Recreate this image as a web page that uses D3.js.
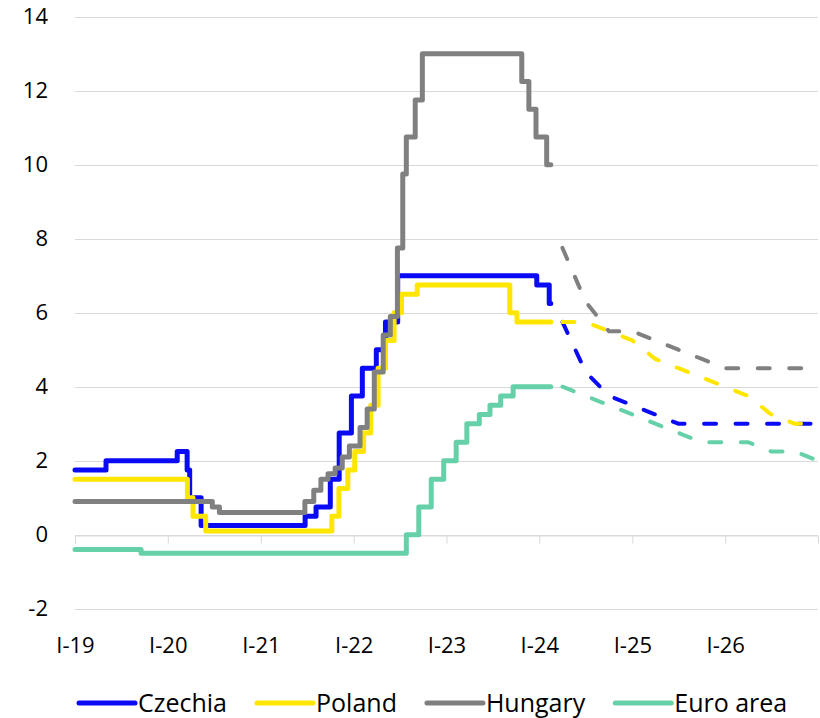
<!DOCTYPE html>
<html>
<head>
<meta charset="utf-8">
<script src="https://cdn.jsdelivr.net/npm/d3@7"></script>
<style>
  body { margin: 0; background: #fff; }
  text { font-family: "Open Sans", sans-serif; fill: #000; }
</style>
</head>
<body>
<div id="chart"></div>
<script>
// policy rates, step changes (date, rate %)
var czechia = [
  ["2019-01-01", 1.75], ["2019-05-03", 2.00], ["2020-02-07", 2.25], ["2020-03-17", 1.75],
  ["2020-03-27", 1.00], ["2020-05-11", 0.25], ["2021-06-24", 0.50], ["2021-08-06", 0.75],
  ["2021-10-01", 1.50], ["2021-11-05", 2.75], ["2021-12-23", 3.75], ["2022-02-04", 4.50],
  ["2022-03-31", 5.00], ["2022-05-06", 5.75], ["2022-06-23", 7.00], ["2023-12-22", 6.75],
  ["2024-02-09", 6.25], ["2024-02-15", 6.25]
];
var poland = [
  ["2019-01-01", 1.50], ["2020-03-18", 1.00], ["2020-04-09", 0.50], ["2020-05-29", 0.10],
  ["2021-10-07", 0.50], ["2021-11-04", 1.25], ["2021-12-09", 1.75], ["2022-01-05", 2.25],
  ["2022-02-09", 2.75], ["2022-03-09", 3.50], ["2022-04-07", 4.50], ["2022-05-06", 5.25],
  ["2022-06-09", 6.00], ["2022-07-08", 6.50], ["2022-09-08", 6.75], ["2023-09-07", 6.00],
  ["2023-10-05", 5.75], ["2024-02-15", 5.75]
];
var hungary = [
  ["2019-01-01", 0.90], ["2020-06-24", 0.75], ["2020-07-22", 0.60], ["2021-06-23", 0.90],
  ["2021-07-28", 1.20], ["2021-08-25", 1.50], ["2021-09-22", 1.65], ["2021-10-20", 1.80],
  ["2021-11-17", 2.10], ["2021-12-15", 2.40], ["2022-01-26", 2.90], ["2022-02-23", 3.40],
  ["2022-03-23", 4.40], ["2022-04-27", 5.40], ["2022-05-25", 5.90], ["2022-06-22", 7.75],
  ["2022-07-13", 9.75], ["2022-07-27", 10.75], ["2022-08-31", 11.75], ["2022-09-28", 13.00],
  ["2023-10-24", 12.25], ["2023-11-21", 11.50], ["2023-12-19", 10.75], ["2024-01-30", 10.00],
  ["2024-02-15", 10.00]
];
var euroArea = [
  ["2019-01-01", -0.40], ["2019-09-18", -0.50], ["2022-07-27", 0.00], ["2022-09-14", 0.75],
  ["2022-11-02", 1.50], ["2022-12-21", 2.00], ["2023-02-08", 2.50], ["2023-03-22", 3.00],
  ["2023-05-10", 3.25], ["2023-06-21", 3.50], ["2023-08-02", 3.75], ["2023-09-20", 4.00],
  ["2024-02-15", 4.00]
];

// forecasts, quarterly
var fcDates = ["2024-04-01", "2024-07-01", "2024-10-01", "2025-01-01", "2025-04-01", "2025-07-01",
  "2025-10-01", "2026-01-01", "2026-04-01", "2026-07-01", "2026-10-01", "2027-01-01"];
var czechiaFc  = [5.75, 4.40, 3.75, 3.50, 3.25, 3.00, 3.00, 3.00, 3.00, 3.00, 3.00, 3.00];
var polandFc   = [5.75, 5.75, 5.50, 5.25, 4.75, 4.50, 4.25, 4.00, 3.75, 3.25, 3.00, 3.00];
var hungaryFc  = [7.75, 6.30, 5.50, 5.50, 5.25, 5.00, 4.75, 4.50, 4.50, 4.50, 4.50, 4.50];
var euroAreaFc = [4.00, 3.75, 3.50, 3.25, 3.00, 2.75, 2.50, 2.50, 2.50, 2.25, 2.25, 2.00];

var yTicks = [-2, 0, 2, 4, 6, 8, 10, 12, 14];
var xTickYears = ["2019", "2020", "2021", "2022", "2023", "2024", "2025", "2026"];

var seriesNames = ["Czechia", "Poland", "Hungary", "Euro area"];
var colors = ["#0a0af5", "#ffe600", "#808080", "#66d1a8"];

var width = 820, height = 718;
var parse = d3.utcParse("%Y-%m-%d");

var svg = d3.select("#chart").append("svg")
    .attr("width", width)
    .attr("height", height);

var x = d3.scaleUtc()
    .domain([parse("2019-01-01"), parse("2027-01-01")])
    .range([75, 818]);
var y = d3.scaleLinear()
    .domain([-2, 14])
    .range([608.7, 16.7]);

// gridlines
svg.append("g")
  .selectAll("line")
  .data(yTicks)
  .enter().append("line")
    .attr("x1", x.range()[0])
    .attr("x2", x.range()[1])
    .attr("y1", function (d) { return Math.round(y(d)) + 0.5; })
    .attr("y2", function (d) { return Math.round(y(d)) + 0.5; })
    .attr("stroke", "#d9d9d9")
    .attr("stroke-width", 1);

// y labels
svg.append("g")
  .selectAll("text")
  .data(yTicks)
  .enter().append("text")
    .attr("x", 48)
    .attr("y", function (d) { return y(d); })
    .attr("dy", "0.35em")
    .attr("text-anchor", "end")
    .style("font-size", "22px")
    .text(function (d) { return d; });

// x axis on the zero line
var xAxis = svg.append("g")
    .attr("transform", "translate(0," + (Math.round(y(0)) + 0.5) + ")")
    .call(d3.axisBottom(x)
      .tickValues(xTickYears.map(function (yr) { return parse(yr + "-01-01"); }))
      .tickSize(8)
      .tickFormat(function (d) { return "I-" + d3.utcFormat("%y")(d); }));
xAxis.select(".domain").attr("stroke", "#d9d9d9");
xAxis.selectAll(".tick line").attr("stroke", "#d9d9d9");
xAxis.selectAll(".tick text")
    .attr("y", 0)
    .attr("dy", 0)
    .attr("transform", "translate(0," + (652 - Math.round(y(0))) + ")")
    .style("font-family", "'Open Sans', sans-serif")
    .style("font-size", "22px")
    .attr("fill", "#000");

var stepLine = d3.line()
    .curve(d3.curveStepAfter)
    .x(function (d) { return x(parse(d[0])); })
    .y(function (d) { return y(d[1]); });

var fcLine = d3.line()
    .x(function (d, i) { return x(parse(fcDates[i])); })
    .y(function (d) { return y(d); });

var actuals = [czechia, poland, hungary, euroArea];
var forecasts = [czechiaFc, polandFc, hungaryFc, euroAreaFc];

actuals.forEach(function (s, i) {
  svg.append("path")
    .datum(s)
    .attr("d", stepLine)
    .attr("fill", "none")
    .attr("stroke", colors[i])
    .attr("stroke-width", 5)
    .attr("stroke-linejoin", "round")
    .attr("stroke-linecap", "round");
});

forecasts.forEach(function (s, i) {
  svg.append("path")
    .datum(s)
    .attr("d", fcLine)
    .attr("fill", "none")
    .attr("stroke", colors[i])
    .attr("stroke-width", 4)
    .attr("stroke-dasharray", "12,19.5")
    .attr("stroke-linecap", "round");
});

// legend
var legend = svg.append("g").attr("transform", "translate(0,703)");
var lx = 79;
seriesNames.forEach(function (name, i) {
  legend.append("line")
    .attr("x1", lx).attr("x2", lx + 56)
    .attr("y1", 0).attr("y2", 0)
    .attr("stroke", colors[i])
    .attr("stroke-width", 5)
    .attr("stroke-linecap", "round");
  var t = legend.append("text")
    .attr("x", lx + 59)
    .attr("y", 0)
    .attr("dy", "0.35em")
    .style("font-size", "25px")
    .text(name);
  lx += 59 + t.node().getComputedTextLength() + 30;
});
</script>
</body>
</html>
